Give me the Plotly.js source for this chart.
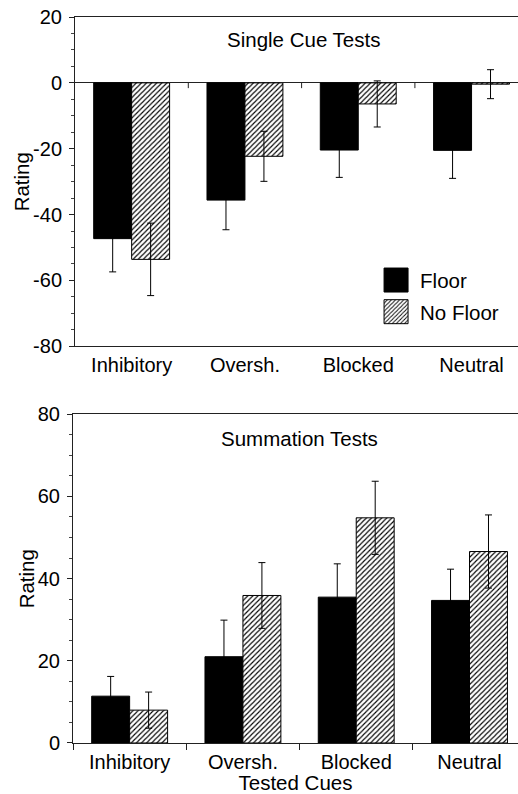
<!DOCTYPE html>
<html>
<head>
<meta charset="utf-8">
<script src="https://cdn.plot.ly/plotly-3.0.1.min.js"></script>
<style>
html,body{margin:0;padding:0;background:#fff;overflow:hidden;}
#chart{width:518px;height:794px;}
</style>
</head>
<body>
<div id="chart"></div>
<script>
// ---- data ----
const categories = ['Inhibitory', 'Oversh.', 'Blocked', 'Neutral'];
const seriesNames = ['Floor', 'No Floor'];

const singleFloor      = [-47.3, -35.6, -20.4, -20.5];
const singleFloorErr   = [10.1, 9.0, 8.3, 8.5];
const singleNoFloor    = [-53.6, -22.3, -6.4, -0.4];
const singleNoFloorErr = [11.0, 7.6, 7.0, 4.4];

const sumFloor      = [11.4, 21.0, 35.5, 34.7];
const sumFloorErr   = [4.8, 8.9, 8.1, 7.6];
const sumNoFloor    = [8.0, 35.9, 54.8, 46.6];
const sumNoFloorErr = [4.4, 8.0, 8.9, 8.9];

const singleTickVals = [-80, -60, -40, -20, 0, 20];
const singleTickText = ['-80', '-60', '-40', '-20', '0', '20'];
const sumTickVals = [0, 20, 40, 60, 80];
const sumTickText = ['0', '20', '40', '60', '80'];

const panelTitles = ['Single Cue Tests', 'Summation Tests'];
const yTitle = 'Rating';
const xTitle = 'Tested Cues';
const boundaryTicks = [0.5, 1.5, 2.5];

// ---- styles ----
const FONT = 'Liberation Sans, Arial, Helvetica, sans-serif';
const solid = {color: '#000', line: {color: '#000', width: 1}};
const hatch = {color: '#fff', line: {color: '#000', width: 1},
  pattern: {shape: '/', fgcolor: '#000', bgcolor: '#fff', size: 3.6, solidity: 0.32}};
function err(arr) {
  return {type: 'data', array: arr, visible: true, color: '#000', thickness: 1, width: 3.5};
}

const data = [
  {type: 'bar', x: categories, y: singleFloor, name: seriesNames[0], xaxis: 'x2', yaxis: 'y2',
   marker: solid, error_y: err(singleFloorErr), legendgroup: 'a'},
  {type: 'bar', x: categories, y: singleNoFloor, name: seriesNames[1], xaxis: 'x2', yaxis: 'y2',
   marker: hatch, error_y: err(singleNoFloorErr), legendgroup: 'b'},
  {type: 'bar', x: categories, y: sumFloor, name: seriesNames[0], xaxis: 'x', yaxis: 'y',
   marker: solid, error_y: err(sumFloorErr), showlegend: false, legendgroup: 'a'},
  {type: 'bar', x: categories, y: sumNoFloor, name: seriesNames[1], xaxis: 'x', yaxis: 'y',
   marker: hatch, error_y: err(sumNoFloorErr), showlegend: false, legendgroup: 'b'}
];

const tickFont = {family: FONT, size: 20, color: '#000'};
const titleFont = {family: FONT, size: 20.5, color: '#000'};
const yCommon = {
  showline: true, linecolor: '#222', linewidth: 1, showgrid: false, zeroline: false,
  ticks: 'outside', ticklen: 5, tickwidth: 1, tickcolor: '#222', tickmode: 'array',
  minor: {dtick: 5, ticks: 'outside', ticklen: 3, tickcolor: '#444', showgrid: false},
  tickfont: tickFont, ticklabelstandoff: 3
};

const layout = {
  width: 518, height: 794,
  margin: {l: 73, r: 0, t: 17, b: 51},
  paper_bgcolor: '#fff', plot_bgcolor: '#fff',
  font: {family: FONT, size: 20, color: '#000'},
  barmode: 'group', bargap: 0.33, bargroupgap: 0,
  showlegend: true,
  legend: {x: 0.69, y: 0.665, xanchor: 'left', yanchor: 'top', font: {family: FONT, size: 20.5, color: '#000'},
           bgcolor: 'rgba(0,0,0,0)', traceorder: 'grouped', tracegroupgap: 2},
  // bottom panel
  xaxis: {domain: [0, 1], range: [-0.5, 3.428], anchor: 'y', showline: true, mirror: true,
          linecolor: '#222', linewidth: 1, ticks: 'outside', tickson: 'boundaries', ticklen: 6,
          tickcolor: '#222', tickfont: tickFont, showgrid: false, ticklabelstandoff: 1,
          title: {text: xTitle, font: titleFont, standoff: 4}},
  yaxis: Object.assign({}, yCommon, {domain: [0, 0.4528], range: [0, 80], anchor: 'x',
          tickvals: sumTickVals, ticktext: sumTickText}),
  // top panel
  xaxis2: {domain: [0.0045, 1], range: [-0.5, 3.41], anchor: 'y2', showline: true, mirror: true,
          linecolor: '#222', linewidth: 1, ticks: '', tickfont: tickFont, showgrid: false,
          ticklabelstandoff: 1},
  yaxis2: Object.assign({}, yCommon, {domain: [0.5464, 1], range: [-80, 20], anchor: 'x2',
          tickvals: singleTickVals, ticktext: singleTickText,
          zeroline: true, zerolinecolor: '#222', zerolinewidth: 1}),
  shapes: boundaryTicks.map(v => ({type: 'line', xref: 'x2', yref: 'y2', x0: v, x1: v, y0: 0, y1: -1.6,
          line: {color: '#222', width: 1}})),
  annotations: [
    {xref: 'x2', yref: 'y2', x: 1.52, y: 13.1, text: panelTitles[0], showarrow: false, font: titleFont},
    {xref: 'x', yref: 'y', x: 1.5, y: 74.2, text: panelTitles[1], showarrow: false, font: titleFont},
    // axis titles "Rating" for each panel
    {xref: 'paper', yref: 'y2 domain', x: -(73 - 21.7) / 445, y: 0.5, text: yTitle, textangle: -90,
     showarrow: false, xanchor: 'center', yanchor: 'middle', font: titleFont},
    {xref: 'paper', yref: 'y domain', x: -(73 - 26.7) / 445, y: 0.5, text: yTitle, textangle: -90,
     showarrow: false, xanchor: 'center', yanchor: 'middle', font: titleFont}
  ]
};

Plotly.newPlot('chart', data, layout, {staticPlot: true, displayModeBar: false}).then(function (gd) {
  // enlarge legend swatches to match the reference's big square keys
  gd.querySelectorAll('.legend .legendpoints path').forEach(function (p) {
    p.setAttribute('d', 'M8,12H-16V-12H8Z');
  });
});
</script>
</body>
</html>
